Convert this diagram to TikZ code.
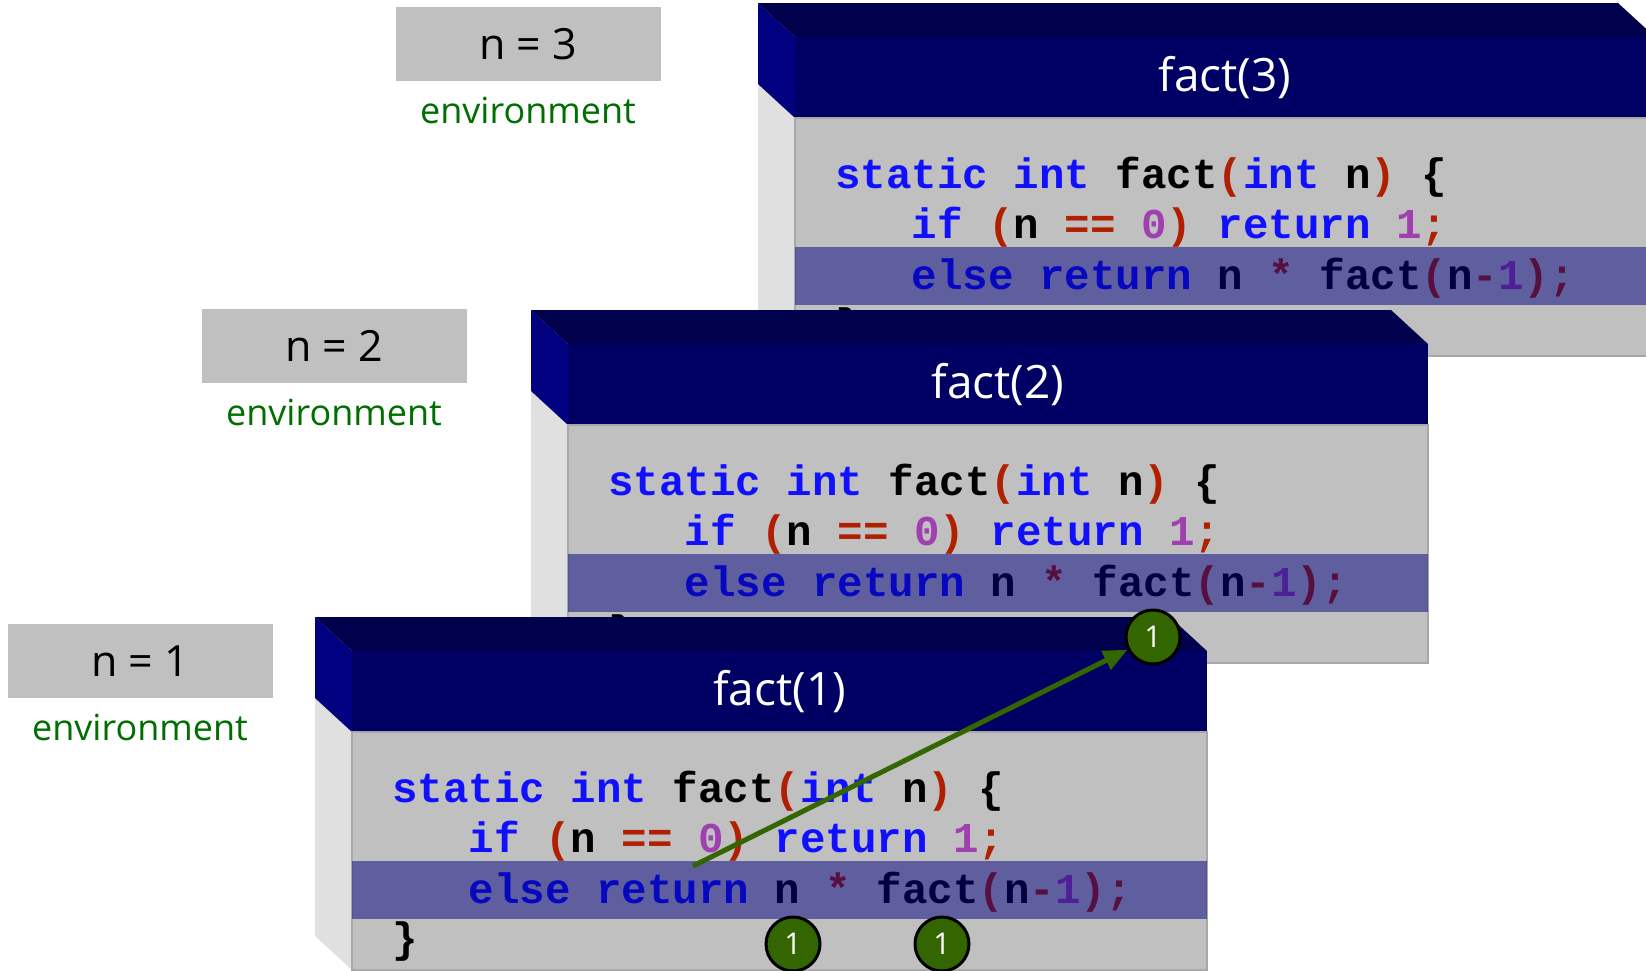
\documentclass[tikz,border=0pt]{standalone}
\usepackage{fontspec}
\setmainfont{Open Sans}
\setmonofont{Liberation Mono}
\usepackage{xcolor}
\usetikzlibrary{positioning,arrows.meta}

\definecolor{kwblue}{HTML}{1010FF}
\definecolor{parred}{HTML}{B02000}
\definecolor{litpurple}{HTML}{A040B0}
\definecolor{headnavy}{HTML}{000064}
\definecolor{topnavy}{HTML}{00004C}
\definecolor{sidenavy}{HTML}{000080}
\definecolor{bodygray}{HTML}{C0C0C0}
\definecolor{bodyedge}{HTML}{A8A8A8}
\definecolor{sidegray}{HTML}{E0E0E0}
\definecolor{bandblue}{HTML}{000080}
\definecolor{envgray}{HTML}{C0C0C0}
\definecolor{envgreen}{HTML}{006E00}
\definecolor{ballgreen}{HTML}{336600}

\newcommand{\kwd}[1]{\textcolor{kwblue}{#1}}
\newcommand{\punc}[1]{\textcolor{parred}{#1}}
\newcommand{\lit}[1]{\textcolor{litpurple}{#1}}

\begin{document}
\begin{tikzpicture}[x=1pt,y=-1pt]
      \useasboundingbox (0,0) rectangle (1646,970);
      \clip (0,0) rectangle (1646,970);
      \tikzset{E/.style = {fill=envgray, minimum width=265, minimum height=74, inner sep=0, font=\fontsize{43}{48}\selectfont}}
      \tikzset{L/.style = {text=envgreen, inner sep=0, font=\fontsize{36}{40}\selectfont}}
      \tikzset{H/.style = {fill=headnavy, text=white, anchor=north west, minimum height=81, inner sep=0, outer sep=0, font=\fontsize{46}{52}\selectfont}}
      \tikzset{B/.style = {fill=bodygray, draw=bodyedge, line width=1.5, anchor=north west, minimum height=238, inner sep=0, outer sep=0}}
      \tikzset{C/.style = {anchor=base west, inner sep=0, font=\ttfamily\bfseries\fontsize{42.5}{51}\selectfont}}
      \tikzset{R/.style = {shape=circle, fill=ballgreen, draw=black, line width=3, text=white, minimum size=54, inner sep=0, font=\fontsize{30}{34}\selectfont}}
      \tikzset{A/.style = {draw=ballgreen, line width=5, -{Triangle[length=24pt,width=20pt]}}}
      % environments
      \node[E](env3) at (528,44) {n = 3};
      \node[L,below=16pt of env3](lab3) {environment};
      \node[E](env2) at (334,346) {n = 2};
      \node[L,below=16pt of env2](lab2) {environment};
      \node[E](env1) at (140,661) {n = 1};
      \node[L,below=16pt of env1](lab1) {environment};
      % frames, back to front
      \foreach \X/\Y/\W/\k in {758/3/860/3, 531/310/860/2, 315/617/855/1}{
        \fill[sidegray] (\X,\Y) -- (\X+37,\Y+34) -- (\X+37,\Y+353) -- (\X,\Y+319) -- cycle;
        \fill[sidenavy] (\X,\Y) -- (\X+37,\Y+34) -- (\X+37,\Y+115) -- (\X,\Y+81) -- cycle;
        \fill[topnavy] (\X,\Y) -- (\X+\W,\Y) -- (\X+\W+37,\Y+34) -- (\X+37,\Y+34) -- cycle;
        \node[H,minimum width=\W](head\k) at (\X+37,\Y+34) {fact(\k)};
        \node[B,minimum width=\W](body\k) at (head\k.south west) {};
        \node[C](sig\k) at ([xshift=40pt,yshift=-70pt]body\k.north west) {\kwd{static int} fact\punc{(}\kwd{int} n\punc{)} \{};
        \node[C](if\k) at ([xshift=40pt,yshift=-120pt]body\k.north west) {\hphantom{xxx}\kwd{if} \punc{(}n \punc{==} \lit{0}\punc{)} \kwd{return} \lit{1}\punc{;}};
        \node[C](else\k) at ([xshift=40pt,yshift=-171pt]body\k.north west) {\hphantom{xxx}\kwd{else return} n \punc{*} fact\punc{(}n\punc{-}\lit{1}\punc{)}\punc{;}};
        \node[C](end\k) at ([xshift=40pt,yshift=-220pt]body\k.north west) {\}};
        \fill[bandblue,fill opacity=0.5] ([yshift=-129pt]body\k.north west) rectangle ([yshift=-187pt]body\k.north east);
      }
      % returned values
      \node[R](ret2) at (1153,637) {1};
      \coordinate (call1) at (693,866);
      \draw[A](call1) to (ret2);
      \node[R](retn) at (793,944) {1};
      \node[R](retf) at (942,944) {1};
\end{tikzpicture}
\end{document}
